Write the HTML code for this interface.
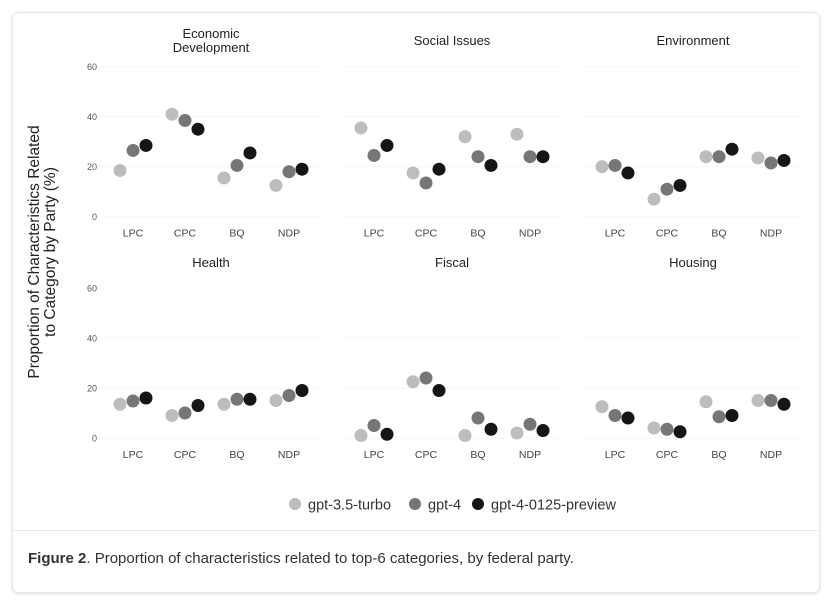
<!DOCTYPE html>
<html><head><meta charset="utf-8"><style>
body{margin:0;background:#fff;width:833px;height:600px;overflow:hidden;font-family:"Liberation Sans",sans-serif}
.card{position:absolute;left:12px;top:12px;width:806px;height:579px;border:1px solid #e6e6e6;border-radius:6px;box-shadow:0 1px 3px rgba(0,0,0,.12);background:#fff}
.sep{position:absolute;left:13px;top:530px;width:805px;height:1px;background:#e8e8e8}
.cap{position:absolute;left:28px;top:550px;font-size:15px;color:#333}
</style></head><body>
<div class="card"></div>
<svg id="chart" width="833" height="600" style="position:absolute;left:0;top:0"></svg>
<div class="sep"></div>
<div class="cap"><b>Figure 2</b>. Proportion of characteristics related to top-6 categories, by federal party.</div>
<script>
const panels=["Economic Development","Social Issues","Environment","Health","Fiscal","Housing"];
const parties=["LPC","CPC","BQ","NDP"];
const models=["gpt-3.5-turbo","gpt-4","gpt-4-0125-preview"];
const yTicks=[0,20,40,60];
const gpt35=[[18.5,41,15.5,12.5],[35.5,17.5,32,33],[20,7,24,23.5],[13.5,9,13.5,15],[1,22.5,1,2],[12.5,4,14.5,15]];
const gpt4=[[26.5,38.5,20.5,18],[24.5,13.5,24,24],[20.5,11,24,21.5],[14.8,10,15.5,17],[5,24,8,5.5],[9,3.5,8.5,15]];
const gpt4p=[[28.5,35,25.5,19],[28.5,19,20.5,24],[17.5,12.5,27,22.5],[16,13,15.5,19],[1.5,19,3.5,3],[8,2.5,9,13.5]];
const series=[gpt35,gpt4,gpt4p];
const colors=["#bdbdbd","#767676","#151515"];
const NS="http://www.w3.org/2000/svg";
const svg=document.getElementById('chart');
function mk(t,a,txt){const e=document.createElementNS(NS,t);for(const k in a)e.setAttribute(k,a[k]);if(txt!=null)e.textContent=txt;svg.appendChild(e);return e;}
const colX0=[100,341,582],rowY0=[216.7,438];
const xPos=(c,i)=>colX0[c]+33+i*52;
const yPos=(r,v)=>rowY0[r]-v*2.5;
panels.forEach((name,p)=>{
  const c=p%3,r=Math.floor(p/3);
  yTicks.forEach(t=>{
    let g=mk('line',{x1:colX0[c],x2:colX0[c]+220,y1:yPos(r,t),y2:yPos(r,t),stroke:'#f7f7f7'});
    
    if(c===0){let l=mk('text',{x:97,y:yPos(r,t)+3.5,'text-anchor':'end','font-size':9,fill:'#555'},t);
    }
  });
  const cx=colX0[c]+111;
  const words=name==="Economic Development"?["Economic","Development"]:[name];
  const ty=r===0?(words.length>1?38:45):267;
  words.forEach((w,k)=>{let t=mk('text',{x:cx,y:ty+k*14,'text-anchor':'middle','font-size':13,fill:'#222'},w);
    });
  parties.forEach((pt,i)=>{
    let t=mk('text',{x:xPos(c,i),y:rowY0[r]+20,'text-anchor':'middle','font-size':10.5,fill:'#444'},pt);
    
    series.forEach((s,m)=>{
      let d=mk('circle',{cx:xPos(c,i)+(m-1)*13,cy:yPos(r,s[p][i]),r:6.5,fill:colors[m]});
      
    });
  });
});
let yt=mk('text',{transform:'translate(39,252) rotate(-90)','text-anchor':'middle','font-size':15.5,fill:'#222'});

["Proportion of Characteristics Related","to Category by Party (%)"].forEach((s,k)=>{const ts=document.createElementNS(NS,'tspan');ts.setAttribute('x',0);ts.setAttribute('dy',k?16:0);ts.textContent=s;yt.appendChild(ts);});
const lx=[295,415,478];
models.forEach((m,k)=>{
  let d=mk('circle',{cx:lx[k],cy:504,r:6,fill:colors[k]});
  
  let t=mk('text',{x:lx[k]+13,y:509.5,'font-size':14.5,fill:'#333'},m);
  
});
</script>
</body></html>
